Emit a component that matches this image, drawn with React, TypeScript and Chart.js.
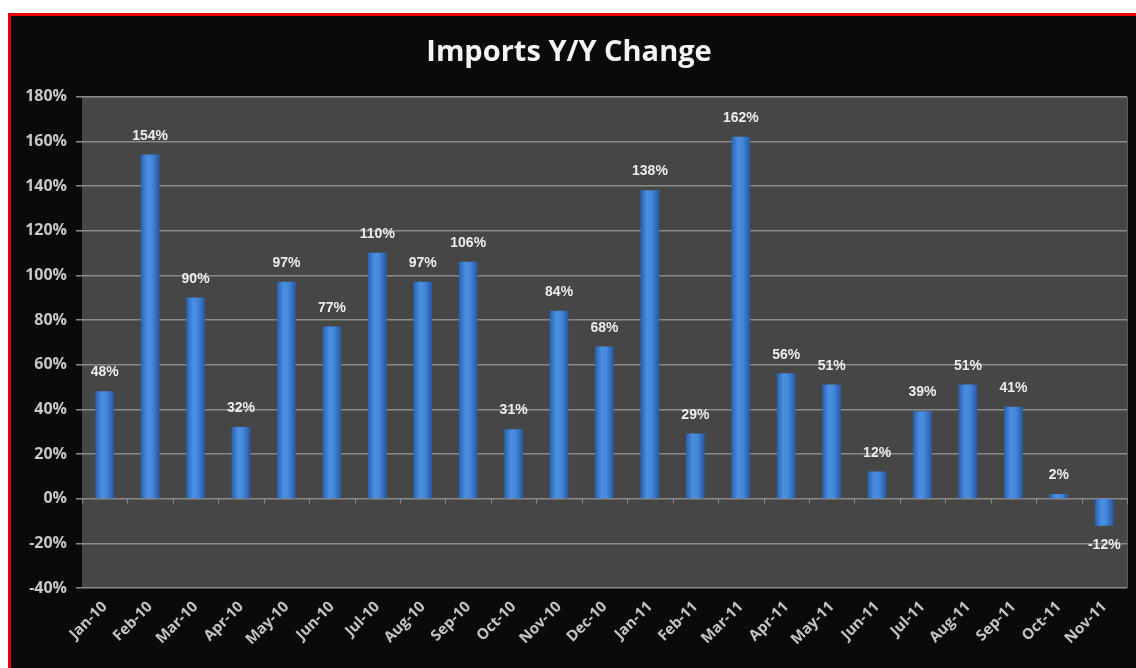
import React, { useEffect, useRef } from "react";
import { Chart, registerables } from "chart.js";

Chart.register(...registerables);

const categories = [
  "Jan-10", "Feb-10", "Mar-10", "Apr-10", "May-10", "Jun-10", "Jul-10", "Aug-10",
  "Sep-10", "Oct-10", "Nov-10", "Dec-10", "Jan-11", "Feb-11", "Mar-11", "Apr-11",
  "May-11", "Jun-11", "Jul-11", "Aug-11", "Sep-11", "Oct-11", "Nov-11",
];
const yoyChange = [48, 154, 90, 32, 97, 77, 110, 97, 106, 31, 84, 68, 138, 29, 162, 56, 51, 12, 39, 51, 41, 2, -12];
const yMin = -40;
const yMax = 180;
const yStep = 20;
const titleText = "Imports Y/Y Change";

const GRID = "#8a8a8a";

const bgPlugin = {
  id: "bgPlugin",
  beforeDraw(chart: any) {
    const { ctx, chartArea } = chart;
    ctx.save();
    ctx.fillStyle = "#0a0a0a";
    ctx.fillRect(0, 0, chart.width, chart.height);
    ctx.fillStyle = "#464646";
    ctx.fillRect(chartArea.left, chartArea.top, chartArea.right - chartArea.left, chartArea.bottom - chartArea.top);
    ctx.strokeStyle = "#5a5a5a";
    ctx.lineWidth = 1;
    ctx.beginPath();
    ctx.moveTo(chartArea.right + 0.5, chartArea.top);
    ctx.lineTo(chartArea.right + 0.5, chartArea.bottom);
    ctx.stroke();
    ctx.restore();
  },
};

const overlayPlugin = {
  id: "overlayPlugin",
  afterDatasetsDraw(chart: any) {
    const { ctx } = chart;
    const xs = chart.scales.x;
    const ys = chart.scales.y;
    const zeroY = ys.getPixelForValue(0);
    ctx.save();
    ctx.strokeStyle = GRID;
    ctx.lineWidth = 1;
    for (let i = 0; i <= categories.length; i++) {
      let bx: number;
      if (i === 0) bx = xs.left;
      else if (i === categories.length) bx = xs.right;
      else bx = (xs.getPixelForValue(i - 1) + xs.getPixelForValue(i)) / 2;
      ctx.beginPath();
      ctx.moveTo(Math.round(bx) + 0.5, zeroY);
      ctx.lineTo(Math.round(bx) + 0.5, zeroY + 5);
      ctx.stroke();
    }
    const meta = chart.getDatasetMeta(0);
    ctx.font = "bold 14px 'Liberation Sans', Arial, sans-serif";
    ctx.fillStyle = "#ececec";
    ctx.textAlign = "center";
    ctx.textBaseline = "middle";
    meta.data.forEach((el: any, i: number) => {
      const v = yoyChange[i];
      const y = v >= 0 ? el.y - 19 : el.y + 20;
      ctx.fillText(v + "%", el.x, y);
    });
    ctx.restore();
  },
};

export default function App() {
  const ref = useRef<HTMLCanvasElement | null>(null);

  useEffect(() => {
    const canvas = ref.current;
    if (!canvas) return;
    const chart = new Chart(canvas, {
      type: "bar",
      data: {
        labels: categories,
        datasets: [
          {
            data: yoyChange,
            barThickness: 18,
            borderWidth: 0,
            backgroundColor: (c: any) => {
              const chart = c.chart;
              const xs = chart.scales && chart.scales.x;
              if (!xs || c.dataIndex === undefined) return "#3a7bd0";
              const cx = xs.getPixelForValue(c.dataIndex);
              if (!isFinite(cx)) return "#3a7bd0";
              const g = chart.ctx.createLinearGradient(cx - 9, 0, cx + 9, 0);
              g.addColorStop(0, "#2a63b2");
              g.addColorStop(0.35, "#4b8fe2");
              g.addColorStop(0.6, "#4488dc");
              g.addColorStop(1, "#2859a4");
              return g;
            },
          },
        ],
      },
      options: {
        responsive: false,
        animation: false,
        layout: { padding: { left: 0, right: 9, top: 0, bottom: 0 } },
        plugins: {
          legend: { display: false },
          tooltip: { enabled: false },
          title: {
            display: true,
            text: titleText,
            color: "#f4f4f4",
            font: { family: "'Open Sans', sans-serif", size: 29, weight: "bold" },
            padding: { top: 19, bottom: 27 },
          },
        },
        scales: {
          x: {
            grid: { display: false },
            border: { display: false },
            ticks: {
              color: "#c4c4c4",
              font: { family: "'Open Sans', sans-serif", size: 15, weight: "bold" },
              maxRotation: 45,
              minRotation: 45,
              autoSkip: false,
              padding: 2,
            },
            afterFit: (s: any) => {
              s.height = 80;
            },
          },
          y: {
            min: yMin,
            max: yMax,
            border: { display: false },
            grid: { color: GRID, lineWidth: 1.5, tickLength: 6 },
            ticks: {
              stepSize: yStep,
              color: "#c8c8c8",
              font: { family: "'Open Sans', sans-serif", size: 16, weight: "bold" },
              padding: 9,
              callback: (v: any) => v + "%",
            },
            afterFit: (s: any) => {
              s.width = 71;
            },
          },
        },
      },
      plugins: [bgPlugin, overlayPlugin],
    });
    return () => chart.destroy();
  }, []);

  return (
    <div
      style={{
        position: "fixed",
        left: 8,
        top: 13,
        width: 1140,
        height: 670,
        borderLeft: "3px solid #ee0000",
        borderTop: "3px solid #ee0000",
        background: "#0a0a0a",
        overflow: "hidden",
      }}
    >
      <canvas ref={ref} width={1125} height={652} style={{ display: "block" }} />
    </div>
  );
}
